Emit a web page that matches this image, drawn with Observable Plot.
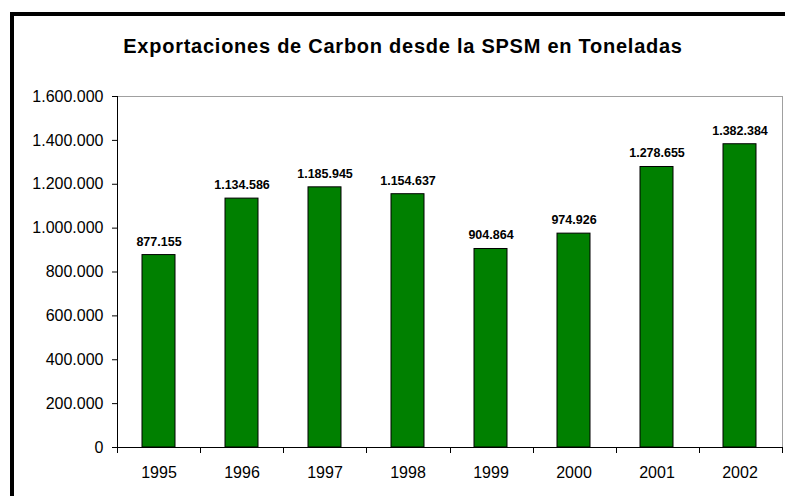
<!DOCTYPE html>
<html>
<head>
<meta charset="utf-8">
<script src="https://cdn.jsdelivr.net/npm/d3@7"></script>
<script src="https://cdn.jsdelivr.net/npm/@observablehq/plot@0.6"></script>
<style>
  html, body { margin: 0; padding: 0; background: #fff; }
  #wrap { position: relative; width: 785px; height: 496px; overflow: hidden; background: #fff; font-family: Arial, "Liberation Sans", sans-serif; }
  #wrap svg { position: absolute; left: 0; top: 0; }
  #border { position: absolute; left: 10px; top: 12px; width: 790px; height: 500px; border: 4px solid #000; box-sizing: border-box; pointer-events: none; }
  #title { position: absolute; left: 10px; width: 786px; top: 36px; text-align: center; font-weight: bold; font-size: 20px; line-height: 20px; letter-spacing: 0.75px; color: #000; }
</style>
</head>
<body>
<div id="wrap">
  <div id="title"></div>
  <div id="border"></div>
</div>
<script>
const titleText = "Exportaciones de Carbon desde la SPSM en Toneladas";
const years = ["1995", "1996", "1997", "1998", "1999", "2000", "2001", "2002"];
const tons = [877155, 1134586, 1185945, 1154637, 904864, 974926, 1278655, 1382384];
const yTicks = [0, 200000, 400000, 600000, 800000, 1000000, 1200000, 1400000, 1600000];

const data = years.map((y, i) => ({year: y, tons: tons[i]}));
const loc = d3.formatLocale({decimal: ",", thousands: ".", grouping: [3], currency: ["", ""]});
const fmt = loc.format(",d");

document.getElementById("title").textContent = titleText;

// Axis lines and category-boundary ticks (Excel style), derived from the plot's dimensions
function axisLines(index, scales, values, dims) {
  const ns = "http://www.w3.org/2000/svg";
  const g = document.createElementNS(ns, "g");
  const left = dims.marginLeft;
  const right = dims.width - dims.marginRight;
  const top = dims.marginTop;
  const bottom = dims.height - dims.marginBottom;
  const n = years.length;
  const line = (x1, y1, x2, y2) => {
    const l = document.createElementNS(ns, "line");
    l.setAttribute("x1", x1); l.setAttribute("y1", y1);
    l.setAttribute("x2", x2); l.setAttribute("y2", y2);
    l.setAttribute("stroke", "#000");
    l.setAttribute("stroke-width", 1);
    g.appendChild(l);
  };
  line(left + 0.5, top, left + 0.5, bottom + 0.5);
  line(left, bottom + 0.5, right, bottom + 0.5);
  for (let i = 0; i <= n; ++i) {
    const x = Math.round(left + i * (right - left) / n) + 0.5;
    line(x, bottom, x, bottom + 6);
  }
  return g;
}

const chart = Plot.plot({
  width: 785,
  height: 496,
  marginLeft: 117,
  marginRight: 3,
  marginTop: 96,
  marginBottom: 49,
  style: {fontFamily: 'Arial, "Liberation Sans", sans-serif', fontSize: "16px", color: "#000", background: "transparent"},
  x: {domain: years, paddingInner: 0.6, paddingOuter: 0.3, label: null},
  y: {domain: [0, 1600000], label: null},
  marks: [
    Plot.frame({stroke: "#a0a0a0"}),
    Plot.barY(data, {x: "year", y: "tons", fill: "#008000", stroke: "#000", strokeWidth: 1}),
    Plot.text(data, {x: "year", y: "tons", text: d => fmt(d.tons), lineAnchor: "middle", dy: -13.5, fontWeight: "bold", fontSize: 12.5, fill: "#000"}),
    Plot.axisY({ticks: yTicks, tickFormat: fmt, tickSize: 5, tickPadding: 9, label: null, fontSize: 16}),
    Plot.axisX({tickSize: 0, tickPadding: 19, label: null, fontSize: 16}),
    axisLines
  ]
});
document.getElementById("wrap").insertBefore(chart, document.getElementById("title"));
</script>
</body>
</html>
